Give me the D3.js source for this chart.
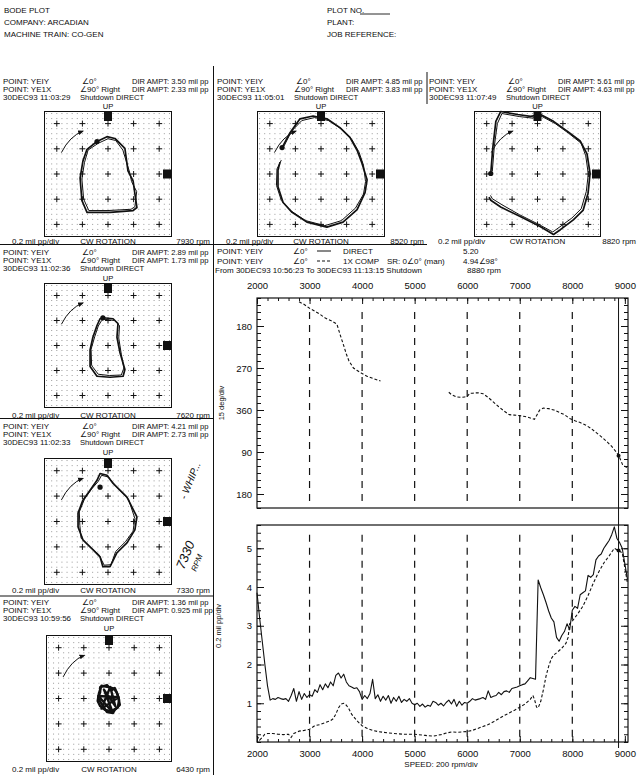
<!DOCTYPE html>
<html><head><meta charset="utf-8">
<script src="https://cdn.jsdelivr.net/npm/d3@7"></script>
<style>
html,body{margin:0;padding:0;background:#fff;}
svg{display:block;}
text{font-family:'Liberation Sans',Arial,sans-serif;fill:#0d0d0d;}
</style></head><body>
<svg id="chart" width="640" height="775"></svg>
<script>
// ---------- Bode plot data (YEIY, shutdown run) ----------
const speedTicks = [2000, 3000, 4000, 5000, 6000, 7000, 8000, 9000];
const speedGrid = [3000, 4000, 5000, 6000, 7000, 8000];
const phaseTicks = [180, 270, 360, 450, 540];
const phaseTickLabels = ["180", "270", "360", "90", "180"];
const ampTicks = [1, 2, 3, 4, 5];

// DIRECT amplitude (mil pp), sampled every 50 rpm from 2000 rpm
const directStart = 2000, directStep = 50;
const directAmp = [
  3.85, 3.2, 2.6, 2.0, 1.45, 1.08, 1.12, 1.1, 1.15, 1.12,
  1.1, 1.12, 1.05, 1.2, 1.38, 1.05, 1.3, 1.1, 1.25, 1.15,
  1.22, 1.18, 1.35, 1.28, 1.48, 1.35, 1.5, 1.4, 1.55, 1.45,
  1.72, 1.78, 1.65, 1.75, 1.55, 1.45, 1.42, 1.38, 1.4, 1.3,
  1.1, 1.2, 1.12, 1.25, 1.62, 1.12, 1.22, 1.05, 1.18, 1.08,
  1.2, 1.0, 1.15, 1.05, 1.18, 1.02, 1.1, 1.05, 1.12, 1.0,
  0.96, 1.0, 0.92, 0.98, 0.9, 0.95, 0.92, 1.05, 1.02, 0.95,
  1.0, 0.93, 1.02, 1.08, 0.98, 1.1, 0.92, 1.05, 0.95, 1.02,
  1.0, 1.05, 1.12, 1.08, 1.1, 1.12, 1.15, 1.1, 1.32, 1.15,
  1.18, 1.2, 1.28, 1.22, 1.3, 1.32, 1.28, 1.38, 1.4, 1.42,
  1.45, 1.48, 1.5, 1.58, 1.66, 1.64, 1.62, 4.18, 3.98, 3.8,
  3.6, 3.38, 3.2, 3.1, 2.7, 2.6, 2.75, 2.85, 3.05, 2.9,
  3.4, 3.5, 3.45, 3.8, 3.85, 3.9, 4.3, 4.25, 4.32, 4.7,
  4.8, 4.85, 5.0, 5.1, 5.2, 5.35, 5.55, 5.25, 5.15, 5.0,
  4.6, 4.2
];

// 1X compensated amplitude (mil pp)
const comp1xSpeed = [2000, 2050, 2100, 2150, 2200, 2300, 2400, 2500, 2600, 2650, 2700, 2800, 2900, 3000, 3100, 3200, 3300, 3400, 3450, 3500, 3550, 3600, 3650, 3700, 3750, 3800, 3900, 4000, 4100, 4200, 4300, 4400, 4600, 4800, 5000, 5200, 5350, 5500, 5600, 5700, 5800, 5900, 6000, 6100, 6200, 6300, 6400, 6500, 6600, 6700, 6800, 6900, 7000, 7100, 7200, 7250, 7280, 7320, 7350, 7400, 7450, 7500, 7550, 7600, 7650, 7700, 7800, 7880, 7920, 7950, 8000, 8100, 8200, 8300, 8400, 8500, 8600, 8700, 8800, 8880, 8950, 9000, 9050];
const comp1xAmp = [0.16, 0.05, 0.12, 0.2, 0.22, 0.22, 0.2, 0.19, 0.2, 0.12, 0.22, 0.28, 0.3, 0.33, 0.42, 0.45, 0.5, 0.55, 0.6, 0.72, 0.88, 0.98, 1.0, 0.95, 0.85, 0.72, 0.55, 0.42, 0.35, 0.3, 0.27, 0.25, 0.22, 0.2, 0.2, 0.17, 0.15, 0.19, 0.23, 0.26, 0.25, 0.26, 0.27, 0.3, 0.35, 0.4, 0.45, 0.52, 0.6, 0.68, 0.75, 0.82, 0.9, 0.98, 1.1, 1.2, 1.1, 0.9, 0.88, 1.05, 1.35, 1.7, 1.95, 2.15, 2.25, 2.3, 2.42, 2.55, 2.7, 3.05, 3.12, 3.3, 3.5, 3.78, 4.1, 4.38, 4.62, 4.8, 5.0, 4.94, 4.88, 4.5, 4.1];

// 1X phase lag (degrees, unwrapped), two acquired segments
const phaseSpeedA = [2800, 2900, 3000, 3100, 3200, 3300, 3400, 3520, 3600, 3650, 3700, 3750, 3835, 3900, 4000, 4100, 4200, 4350];
const phaseA = [128, 134, 142, 148, 155, 163, 168, 176, 205, 222, 240, 255, 270, 275, 282, 288, 292, 298];
const phaseSpeedB = [5650, 5700, 5800, 5900, 5950, 6000, 6050, 6100, 6200, 6300, 6400, 6500, 6600, 6700, 6800, 6900, 7000, 7100, 7200, 7280, 7330, 7380, 7450, 7550, 7650, 7750, 7850, 7950, 8050, 8150, 8250, 8350, 8450, 8550, 8650, 8750, 8850, 8900, 8960, 9050];
const phaseB = [322, 327, 332, 333, 332, 331, 324, 324, 323, 325, 333, 343, 353, 362, 370, 371, 372, 374, 377, 380, 370, 360, 356, 357, 360, 365, 370, 378, 383, 387, 392, 399, 408, 417, 427, 438, 452, 462, 478, 484];

// Cursor readout
const cursorSpeed = 8880, cursorDirect = "5.20", cursorAmp1x = 4.94, cursorPhase1x = 98;

// ---------- Orbit data (divisions of 0.2 mil pp, x right / y up) ----------
const orbitRpm = ["7930", "8520", "8820", "7620", "7330", "6430"];
const orbitDate = ["30DEC93 11:03:29", "30DEC93 11:05:01", "30DEC93 11:07:49", "30DEC93 11:02:36", "30DEC93 11:02:33", "30DEC93 10:59:56"];
const orbitAmptY = ["3.50", "4.85", "5.61", "2.89", "4.21", "1.36"];
const orbitAmptX = ["2.33", "3.83", "4.63", "1.73", "2.73", "0.925"];
const orbitClosed = [true, false, false, true, true, true];
const orbitLoops = [
  [
    [[-0.43,1.29],[-0.04,1.48],[0.27,1.41],[0.66,1.02],[0.78,0.12],[0.98,-0.27],[1.05,-0.78],[1.13,-1.33],[0.98,-1.45],[0.08,-1.52],[-0.82,-1.52],[-1.02,-1.05],[-1.09,-0.16],[-0.98,0.51],[-0.82,0.98]],
    [[-0.38,1.22],[0.0,1.40],[0.30,1.33],[0.58,0.95],[0.85,0.05],[0.92,-0.30],[1.12,-0.70],[1.05,-1.30],[0.90,-1.40],[0.0,-1.45],[-0.75,-1.45],[-0.95,-1.0],[-1.02,-0.2],[-0.92,0.45],[-0.78,0.95]]
  ],
  [
    [[-1.52,1.05],[-1.21,1.64],[-0.82,2.19],[-0.31,2.30],[0.23,2.19],[0.74,1.84],[1.13,1.45],[1.41,0.94],[1.60,0.43],[1.80,-0.23],[1.72,-0.74],[1.41,-1.41],[0.86,-1.91],[0.23,-2.11],[-0.55,-1.91],[-1.13,-1.52],[-1.48,-1.13],[-1.68,-0.51],[-1.68,0.16],[-1.60,0.47]],
    [[-1.45,1.10],[-1.15,1.70],[-0.75,2.12],[-0.25,2.24],[0.30,2.12],[0.80,1.78],[1.20,1.38],[1.48,0.88],[1.66,0.35],[1.74,-0.30],[1.66,-0.80],[1.35,-1.35],[0.80,-1.85],[0.15,-2.05],[-0.60,-1.85],[-1.20,-1.45],[-1.55,-1.05],[-1.74,-0.45],[-1.72,0.2],[-1.55,0.55]]
  ],
  [
    [[-1.84,0.02],[-1.76,1.04],[-1.64,2.09],[-1.45,2.48],[-0.78,2.36],[-0.27,2.29],[0.12,2.36],[0.63,2.09],[1.17,1.70],[1.68,1.31],[1.95,0.80],[2.07,0.02],[1.99,-0.76],[1.80,-1.43],[1.41,-1.82],[0.90,-2.21],[0.63,-2.40],[0.12,-2.09],[-0.66,-1.70],[-1.45,-1.31],[-1.84,-1.04],[-1.91,-0.92]],
    [[-1.78,0.1],[-1.70,1.10],[-1.58,2.0],[-1.40,2.40],[-0.72,2.28],[-0.22,2.22],[0.18,2.28],[0.70,2.00],[1.22,1.62],[1.72,1.22],[1.90,0.72],[2.00,0.0],[1.92,-0.70],[1.72,-1.38],[1.35,-1.75],[0.85,-2.12],[0.60,-2.30],[0.05,-2.00],[-0.70,-1.62],[-1.40,-1.22],[-1.78,-0.98],[-1.85,-0.85]]
  ],
  [
    [[-0.20,1.11],[0.20,1.07],[0.39,0.88],[0.35,0.33],[0.47,-0.29],[0.66,-0.96],[0.59,-1.23],[0.08,-1.27],[-0.43,-1.23],[-0.70,-0.84],[-0.70,-0.18],[-0.59,0.33],[-0.43,0.80],[-0.31,1.07]],
    [[-0.15,1.05],[0.25,1.0],[0.45,0.8],[0.42,0.3],[0.52,-0.35],[0.62,-0.9],[0.52,-1.18],[0.05,-1.2],[-0.38,-1.15],[-0.64,-0.8],[-0.66,-0.15],[-0.52,0.35],[-0.38,0.78],[-0.25,1.0]]
  ],
  [
    [[-0.31,1.89],[-0.04,1.82],[0.20,1.50],[0.74,0.96],[1.13,0.18],[1.05,-0.33],[0.74,-0.84],[0.35,-1.23],[0.08,-1.78],[-0.20,-1.78],[-0.31,-1.39],[-0.59,-1.11],[-0.98,-0.72],[-1.17,-0.21],[-1.17,0.33],[-0.98,0.84],[-0.70,1.23],[-0.43,1.62]],
    [[-0.25,1.82],[0.02,1.75],[0.28,1.42],[0.80,0.88],[1.05,0.12],[0.98,-0.38],[0.68,-0.80],[0.30,-1.18],[0.12,-1.70],[-0.15,-1.72],[-0.36,-1.30],[-0.66,-1.05],[-1.05,-0.66],[-1.10,-0.15],[-1.12,0.38],[-0.92,0.88],[-0.64,1.28],[-0.38,1.58]]
  ],
  [
    [[-0.35,0.45],[-0.08,0.53],[0.12,0.33],[0.23,0.41],[0.35,0.14],[0.43,-0.25],[0.23,-0.45],[0.16,-0.57],[-0.08,-0.53],[-0.27,-0.25],[-0.43,0.02],[-0.35,0.25]],
    [[-0.30,0.50],[-0.02,0.45],[0.18,0.40],[0.30,0.25],[0.40,-0.05],[0.35,-0.35],[0.10,-0.50],[-0.15,-0.45],[-0.35,-0.30],[-0.45,-0.10],[-0.40,0.20]],
    [[-0.20,0.35],[0.25,-0.30],[0.05,0.45],[-0.30,-0.40],[0.38,0.05],[-0.42,0.10],[0.15,-0.55]]
  ]
];
const orbitKeyphasor = [[-0.43,1.29],[-1.52,1.05],[-1.84,0.02],[-0.20,1.11],[-0.31,1.35],null];

// ---------- layout ----------
const svg = d3.select("#chart");
const defs = svg.append("defs");
defs.append("marker").attr("id","ah").attr("viewBox","0 0 10 10").attr("refX",8).attr("refY",5)
  .attr("markerWidth",6).attr("markerHeight",6).attr("orient","auto-start-reverse")
  .append("path").attr("d","M0,1 L10,5 L0,9 z").attr("fill","#111");

function txt(parent, x, y, s, size, anchor) {
  const t = parent.append("text").attr("x", x).attr("y", y).attr("dy", "0.35em")
    .attr("font-size", size || 8).text(s);
  if (anchor) t.attr("text-anchor", anchor);
  return t;
}
function rule(x1, y1, x2, y2, w) {
  svg.append("line").attr("x1",x1).attr("y1",y1).attr("x2",x2).attr("y2",y2)
    .attr("stroke","#111").attr("stroke-width", w || 1);
}

// header
txt(svg, 4, 10, "BODE PLOT");
txt(svg, 4, 22, "COMPANY: ARCADIAN");
txt(svg, 4, 34, "MACHINE TRAIN: CO-GEN");
txt(svg, 327, 10, "PLOT NO.");
rule(360, 14, 390, 14, 0.9);
txt(svg, 327, 22, "PLANT:");
txt(svg, 327, 34, "JOB REFERENCE:");

// page rules
rule(213.5, 66, 213.5, 775, 1);
rule(427, 72, 427, 104, 1);
rule(0, 244.5, 427, 244.5, 1);
rule(0, 418.5, 213, 418.5, 1);
rule(0, 596, 213, 596, 1);

// ---------- orbit panels ----------
const panels = [
  {tx:3,   bx:44,  by:111, bw:128, bh:126, ty:81,  uy:106, ly:241, cx0:0,   cx1:213},
  {tx:217, bx:257, by:111, bw:128, bh:126, ty:81,  uy:106, ly:241, cx0:214, cx1:427},
  {tx:429, bx:474, by:111, bw:127, bh:126, ty:81,  uy:106, ly:241, cx0:427, cx1:640},
  {tx:3,   bx:44,  by:283, bw:128, bh:125, ty:252, uy:278, ly:415, cx0:0,   cx1:213},
  {tx:3,   bx:44,  by:458, bw:128, bh:127, ty:426, uy:452, ly:590, cx0:0,   cx1:213},
  {tx:3,   bx:46,  by:635, bw:126, bh:127, ty:602, uy:628, ly:769, cx0:0,   cx1:213}
];
const divSteps = d3.range(-12, 13).map(i => i * 0.2);
const crossSteps = [-2, -1, 0, 1, 2];

panels.forEach((p, i) => {
  defs.append("clipPath").attr("id", "pc" + i).append("rect")
    .attr("x", p.cx0).attr("y", p.ty - 8).attr("width", p.cx1 - p.cx0).attr("height", p.ly + 8 - (p.ty - 8));
  const g = svg.append("g").attr("clip-path", `url(#pc${i})`);
  const sx = d3.scaleLinear().domain([-2.5, 2.5]).range([p.bx, p.bx + p.bw]);
  const sy = d3.scaleLinear().domain([-2.5, 2.5]).range([p.by + p.bh, p.by]);

  // dotted graticule
  const dots = [];
  divSteps.forEach(a => divSteps.forEach(b => dots.push([a, b])));
  g.append("g").selectAll("rect").data(dots).join("rect")
    .attr("x", d => sx(d[0]) - 0.5).attr("y", d => sy(d[1]) - 0.5)
    .attr("width", 1).attr("height", 1).attr("fill", "#9a9a9a");
  // division crosses
  const cr = [];
  crossSteps.forEach(a => crossSteps.forEach(b => cr.push([a, b])));
  g.append("g").selectAll("path").data(cr).join("path")
    .attr("d", d => `M${sx(d[0]) - 3},${sy(d[1])}H${sx(d[0]) + 3}M${sx(d[0])},${sy(d[1]) - 3}V${sy(d[1]) + 3}`)
    .attr("stroke", "#111").attr("stroke-width", 1);
  // frame
  g.append("rect").attr("x", p.bx + 0.5).attr("y", p.by + 0.5).attr("width", p.bw - 1).attr("height", p.bh - 1)
    .attr("fill", "none").attr("stroke", "#111").attr("stroke-width", 1);
  // probe markers
  g.append("rect").attr("x", sx(0) - 4).attr("y", p.by + 1).attr("width", 8).attr("height", 9).attr("fill", "#111");
  g.append("rect").attr("x", p.bx + p.bw - 9).attr("y", sy(0) - 4.5).attr("width", 8).attr("height", 9).attr("fill", "#111");
  // rotation arrow
  const ap = d3.path();
  ap.moveTo(sx(-1.82), sy(0.85));
  ap.quadraticCurveTo(sx(-1.5), sy(1.5), sx(-0.98), sy(1.7));
  g.append("path").attr("d", ap.toString()).attr("fill", "none").attr("stroke", "#111")
    .attr("stroke-width", 1).attr("marker-end", "url(#ah)");
  // orbit traces
  const line = d3.line().x(d => sx(d[0])).y(d => sy(d[1]))
    .curve(orbitClosed[i] ? d3.curveLinearClosed : d3.curveLinear);
  orbitLoops[i].forEach((loop, k) => {
    g.append("path").attr("d", line(loop)).attr("fill", "none").attr("stroke", "#111")
      .attr("stroke-width", i === 5 ? 2.4 : (k === 0 ? 1.7 : 1.0)).attr("stroke-linejoin", "round");
  });
  if (orbitKeyphasor[i]) {
    g.append("circle").attr("cx", sx(orbitKeyphasor[i][0])).attr("cy", sy(orbitKeyphasor[i][1]))
      .attr("r", 2.6).attr("fill", "#111");
  }
  // labels
  txt(g, p.tx, p.ty, "POINT: YEIY");
  txt(g, p.tx + 79, p.ty, "∠0°");
  txt(g, p.tx + 129, p.ty, `DIR AMPT: ${orbitAmptY[i]} mil pp`, 7.6);
  txt(g, p.tx, p.ty + 8, "POINT: YE1X");
  txt(g, p.tx + 77, p.ty + 8, "∠90° Right");
  txt(g, p.tx + 129, p.ty + 8, `DIR AMPT: ${orbitAmptX[i]} mil pp`, 7.6);
  txt(g, p.tx, p.ty + 16.5, orbitDate[i]);
  txt(g, p.tx + 77, p.ty + 16.5, "Shutdown  DIRECT", 7.6);
  txt(g, sx(0), p.uy, "UP", 7.6, "middle");
  txt(g, p.tx + 9, p.ly, "0.2 mil pp/div");
  txt(g, sx(0), p.ly, "CW ROTATION", 8, "middle");
  txt(g, p.tx + 207, p.ly, `${orbitRpm[i]} rpm`, 8, "end");
});

// handwritten notes beside the 7330 rpm orbit
svg.append("text").attr("transform", "translate(186,500) rotate(-68)")
  .attr("font-family", "'Liberation Serif',serif").attr("font-style", "italic")
  .attr("font-size", 10).text("- WHIP...");
svg.append("text").attr("transform", "translate(184,570) rotate(-68)")
  .attr("font-family", "'Liberation Serif',serif").attr("font-style", "italic")
  .attr("font-size", 13).text("7330");
svg.append("text").attr("transform", "translate(196,572) rotate(-68)")
  .attr("font-family", "'Liberation Serif',serif").attr("font-style", "italic")
  .attr("font-size", 8).text("RPM");

// ---------- legend / readout ----------
txt(svg, 217, 251, "POINT: YEIY");
txt(svg, 293, 251, "∠0°");
svg.append("line").attr("x1", 317).attr("x2", 331).attr("y1", 251).attr("y2", 251).attr("stroke", "#111");
txt(svg, 343, 251, "DIRECT");
txt(svg, 463, 251, cursorDirect);
txt(svg, 217, 261, "POINT: YEIY");
txt(svg, 293, 261, "∠0°");
svg.append("line").attr("x1", 317).attr("x2", 331).attr("y1", 261).attr("y2", 261).attr("stroke", "#111")
  .attr("stroke-dasharray", "3,2");
txt(svg, 343, 261, "1X COMP");
txt(svg, 387, 261, "SR: 0∠0° (man)");
txt(svg, 463, 261, `${cursorAmp1x.toFixed(2)}∠${cursorPhase1x}°`);
txt(svg, 215, 270.5, "From 30DEC93 10:56:23 To 30DEC93 11:13:15 Shutdown");
txt(svg, 467, 270.5, `${cursorSpeed} rpm`);

// ---------- Bode plot ----------
const x = d3.scaleLinear().domain([2000, 9060]).range([257, 628]);
const yPh = d3.scaleLinear().domain([120, 570]).range([298, 508]);
const yAmp = d3.scaleLinear().domain([0, 5.6]).range([742, 525]);

const axisFont = g => g.selectAll("text").attr("font-family", "'Liberation Sans',Arial,sans-serif")
  .attr("font-size", 9.5).attr("fill", "#111");
const clean = g => { g.select(".domain").remove(); g.selectAll("line").attr("stroke", "#111"); };

// phase panel axes
svg.append("g").attr("transform", `translate(0,${yPh.range()[0]})`)
  .call(d3.axisTop(x).tickValues(d3.range(2000, 9001, 200)).tickSize(-3).tickFormat(""))
  .call(clean);
svg.append("g").attr("transform", `translate(0,${yPh.range()[0]})`)
  .call(d3.axisTop(x).tickValues(speedTicks).tickSize(-6).tickPadding(9).tickFormat(d3.format("d")))
  .call(clean).call(axisFont);
svg.append("g").attr("transform", `translate(${x.range()[0]},0)`)
  .call(d3.axisLeft(yPh).tickValues(d3.range(120, 571, 15)).tickSize(-4).tickFormat(""))
  .call(clean);
svg.append("g").attr("transform", `translate(${x.range()[0]},0)`)
  .call(d3.axisLeft(yPh).tickValues(phaseTicks).tickSize(-7).tickPadding(5)
    .tickFormat((d, j) => phaseTickLabels[j]))
  .call(clean).call(axisFont);
svg.append("g").attr("transform", `translate(${x.range()[1]},0)`)
  .call(d3.axisRight(yPh).tickValues(d3.range(120, 571, 15)).tickSize(-4).tickFormat(""))
  .call(clean);
svg.append("g").attr("transform", `translate(${x.range()[1]},0)`)
  .call(d3.axisRight(yPh).tickValues(phaseTicks).tickSize(-7).tickFormat(""))
  .call(clean);

// amplitude panel axes
svg.append("g").attr("transform", `translate(0,${yAmp.range()[0]})`)
  .call(d3.axisBottom(x).tickValues(d3.range(2000, 9001, 200)).tickSize(-3).tickFormat(""))
  .call(clean);
svg.append("g").attr("transform", `translate(0,${yAmp.range()[0]})`)
  .call(d3.axisBottom(x).tickValues(speedTicks).tickSize(-6).tickPadding(8).tickFormat(d3.format("d")))
  .call(clean).call(axisFont);
svg.append("g").attr("transform", `translate(${x.range()[0]},0)`)
  .call(d3.axisLeft(yAmp).tickValues(d3.range(0, 29).map(k => k * 0.2)).tickSize(-4).tickFormat(""))
  .call(clean);
svg.append("g").attr("transform", `translate(${x.range()[0]},0)`)
  .call(d3.axisLeft(yAmp).tickValues(ampTicks).tickSize(-7).tickPadding(5).tickFormat(d3.format("d")))
  .call(clean).call(axisFont);
svg.append("g").attr("transform", `translate(${x.range()[1]},0)`)
  .call(d3.axisRight(yAmp).tickValues(d3.range(0, 29).map(k => k * 0.2)).tickSize(-4).tickFormat(""))
  .call(clean);
svg.append("g").attr("transform", `translate(${x.range()[1]},0)`)
  .call(d3.axisRight(yAmp).tickValues(ampTicks).tickSize(-7).tickFormat(""))
  .call(clean);

// frames
[[yPh], [yAmp]].forEach(([ys]) => {
  const r = ys.range();
  svg.append("rect").attr("x", x.range()[0]).attr("y", Math.min(r[0], r[1]))
    .attr("width", x.range()[1] - x.range()[0]).attr("height", Math.abs(r[1] - r[0]))
    .attr("fill", "none").attr("stroke", "#111").attr("stroke-width", 1.2);
});

// dashed speed grid
speedGrid.forEach(s => {
  svg.append("line").attr("x1", x(s)).attr("x2", x(s)).attr("y1", yPh(150)).attr("y2", yPh(565))
    .attr("stroke", "#111").attr("stroke-width", 1.2).attr("stroke-dasharray", "7,6");
  svg.append("line").attr("x1", x(s)).attr("x2", x(s)).attr("y1", yAmp(5.35)).attr("y2", yAmp(0.1))
    .attr("stroke", "#111").attr("stroke-width", 1.2).attr("stroke-dasharray", "7,6");
});

// axis titles
svg.append("text").attr("transform", "translate(221,403) rotate(-90)").attr("text-anchor", "middle")
  .attr("dy", "0.35em").attr("font-size", 7.5).text("15 deg/div");
svg.append("text").attr("transform", "translate(218,626) rotate(-90)").attr("text-anchor", "middle")
  .attr("dy", "0.35em").attr("font-size", 7.5).text("0.2 mil pp/div");
txt(svg, 441, 764, "SPEED: 200 rpm/div", 8, "middle");

// curves
const directPts = directAmp.map((v, k) => [directStart + k * directStep, v]);
const ampLine = d3.line().x(d => x(d[0])).y(d => yAmp(d[1]));
const phLine = d3.line().x(d => x(d[0])).y(d => yPh(d[1]));
svg.append("path").attr("d", ampLine(directPts)).attr("fill", "none").attr("stroke", "#111")
  .attr("stroke-width", 1.1).attr("stroke-linejoin", "round");
svg.append("path").attr("d", ampLine(comp1xSpeed.map((s, k) => [s, comp1xAmp[k]])))
  .attr("fill", "none").attr("stroke", "#111").attr("stroke-width", 1.1).attr("stroke-dasharray", "3,2");
[[phaseSpeedA, phaseA], [phaseSpeedB, phaseB]].forEach(([sp, ph]) => {
  svg.append("path").attr("d", phLine(sp.map((s, k) => [s, ph[k]])))
    .attr("fill", "none").attr("stroke", "#111").attr("stroke-width", 1.1).attr("stroke-dasharray", "3,2");
});

// cursor
svg.append("line").attr("x1", x(cursorSpeed)).attr("x2", x(cursorSpeed))
  .attr("y1", yPh.range()[0]).attr("y2", yAmp(0) + 6).attr("stroke", "#111").attr("stroke-width", 1);
svg.append("circle").attr("cx", x(cursorSpeed)).attr("cy", yPh(360 + cursorPhase1x)).attr("r", 2).attr("fill", "#111");
svg.append("circle").attr("cx", x(cursorSpeed)).attr("cy", yAmp(cursorAmp1x)).attr("r", 2).attr("fill", "#111");
</script>
</body></html>
